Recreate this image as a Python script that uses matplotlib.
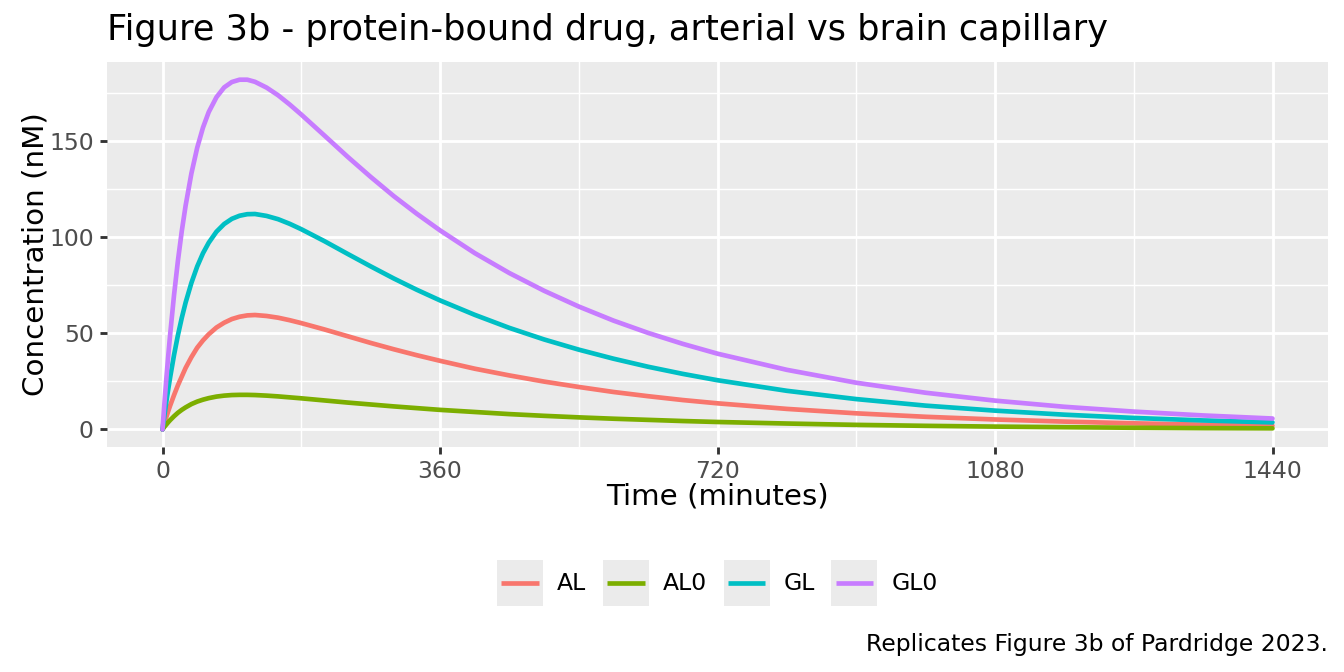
import numpy as np
import matplotlib
matplotlib.use("Agg")
import matplotlib.pyplot as plt
from matplotlib.lines import Line2D
from matplotlib.patches import Rectangle
from matplotlib.legend_handler import HandlerLine2D

# time grid (minutes) and concentrations (nM)
time_min = [0, 2.5, 5, 7.5, 10, 15, 20, 25, 30, 37.5, 45, 52.5, 60, 70, 80, 90,
            100, 110, 120, 135, 150, 165, 180, 210, 240, 270, 300, 330, 360,
            405, 450, 495, 540, 585, 630, 675, 720, 810, 900, 990, 1080, 1170,
            1260, 1350, 1440]
AL = [0, 3.3, 6.5, 9.6, 12.5, 17.9, 23.0, 27.5, 32.0, 37.6, 42.5, 46.3, 49.5,
      53.0, 55.5, 57.4, 58.6, 59.3, 59.5, 59.0, 58.1, 56.8, 55.3, 52.0, 48.5,
      45.0, 41.7, 38.6, 35.7, 31.6, 28.1, 24.9, 22.1, 19.5, 17.3, 15.3, 13.6,
      10.7, 8.4, 6.6, 5.2, 4.1, 3.2, 2.5, 2.0]
AL0 = [0, 1.4, 2.6, 3.8, 4.9, 6.9, 8.7, 10.2, 11.5, 13.2, 14.5, 15.5, 16.3,
       17.1, 17.6, 17.9, 18.0, 18.0, 17.9, 17.6, 17.2, 16.7, 16.2, 15.1, 14.0,
       13.0, 12.0, 11.1, 10.2, 9.1, 8.0, 7.1, 6.3, 5.6, 5.0, 4.4, 3.9, 3.1,
       2.4, 1.9, 1.5, 1.2, 0.9, 0.7, 0.6]
GL = [0, 7.4, 14.5, 21.1, 27.3, 38.8, 49.0, 58.0, 66.0, 76.2, 84.7, 91.6, 97.1,
      102.8, 106.8, 109.5, 111.1, 111.9, 112.0, 111.0, 109.3, 106.9, 104.1,
      97.9, 91.3, 84.8, 78.5, 72.6, 67.1, 59.6, 52.8, 46.8, 41.5, 36.8, 32.6,
      28.9, 25.6, 20.1, 15.8, 12.4, 9.8, 7.7, 6.0, 4.7, 3.7]
GL0 = [0, 13.7, 26.5, 38.5, 49.7, 70.0, 87.7, 103.1, 116.4, 133.1, 146.4,
       156.9, 165.0, 172.7, 177.8, 180.6, 181.8, 181.8, 180.7, 177.7, 173.7,
       168.9, 163.7, 152.8, 141.8, 131.3, 121.3, 112.1, 103.5, 91.7, 81.3,
       72.1, 63.9, 56.6, 50.2, 44.5, 39.4, 31.0, 24.3, 19.1, 15.0, 11.8, 9.3,
       7.3, 5.7]

series = {"AL": AL, "AL0": AL0, "GL": GL, "GL0": GL0}
colors = {"AL": "#F8766D", "AL0": "#7CAE00", "GL": "#00BFC4", "GL0": "#C77CFF"}

x_breaks = [0, 360, 720, 1080, 1440]
x_minor = [180, 540, 900, 1260]
y_breaks = [0, 50, 100, 150]
y_minor = [25, 75, 125, 175]

plt.rcParams['font.family'] = ['DejaVu Sans']


class KeyHandler(HandlerLine2D):
    # ggplot style legend key: grey square with a line across
    def create_artists(self, legend, orig_handle, xdescent, ydescent,
                       width, height, fontsize, trans):
        side = width
        y0 = -ydescent + height / 2 - side / 2
        rect = Rectangle((-xdescent, y0), side, side, facecolor="#EBEBEB",
                         edgecolor="none", transform=trans)
        pad = side * 0.09
        ln = Line2D([-xdescent + pad, -xdescent + side - pad],
                    [y0 + side / 2, y0 + side / 2],
                    color=orig_handle.get_color(), lw=orig_handle.get_linewidth(),
                    solid_capstyle="butt", transform=trans)
        return [rect, ln]


fig = plt.figure(figsize=(7, 3.5), dpi=192)
ax = fig.add_axes([107 / 1344, 1 - 447 / 672, (1328 - 107) / 1344, (447 - 62) / 672])
ax.set_facecolor("#EBEBEB")

for name, vals in series.items():
    ax.plot(time_min, vals, color=colors[name], lw=1.75, label=name,
            solid_capstyle="round", solid_joinstyle="round", zorder=3)

ax.set_xlim(-72, 1512)
ax.set_ylim(-9.1, 191.0)
ax.set_xticks(x_breaks)
ax.set_xticks(x_minor, minor=True)
ax.set_yticks(y_breaks)
ax.set_yticks(y_minor, minor=True)
ax.grid(True, which="major", color="white", lw=1.07)
ax.grid(True, which="minor", color="white", lw=0.53)
ax.set_axisbelow(True)
for s in ax.spines.values():
    s.set_visible(False)
ax.tick_params(which="major", length=2.75, width=1.07, color="#333333",
               labelsize=8.8, labelcolor="#4D4D4D", pad=2.2)
ax.tick_params(which="minor", length=0)

fig.text(107 / 1344, 1 - 30 / 672, "Figure 3b - protein-bound drug, arterial vs brain capillary",
         fontsize=13.2, ha="left", va="center", color="black")
fig.text(717.5 / 1344, 1 - 497 / 672, "Time (minutes)", fontsize=11,
         ha="center", va="center")
fig.text(36 / 1344, 1 - 254 / 672, "Concentration (nM)", fontsize=11,
         ha="center", va="center", rotation=90)
fig.text(1328 / 1344, 1 - 645 / 672, "Replicates Figure 3b of Pardridge 2023.",
         fontsize=8.8, ha="right", va="center")

handles, labels = ax.get_legend_handles_labels()
fig.legend(handles, labels, loc="center", bbox_to_anchor=(717.5 / 1344, 1 - 583 / 672),
           ncol=4, frameon=False, fontsize=8.8, handlelength=1.96, handleheight=1.96,
           handletextpad=0.6, columnspacing=0.7, borderpad=0, borderaxespad=0,
           handler_map={Line2D: KeyHandler()})

fig.savefig("out.png", dpi=192)
